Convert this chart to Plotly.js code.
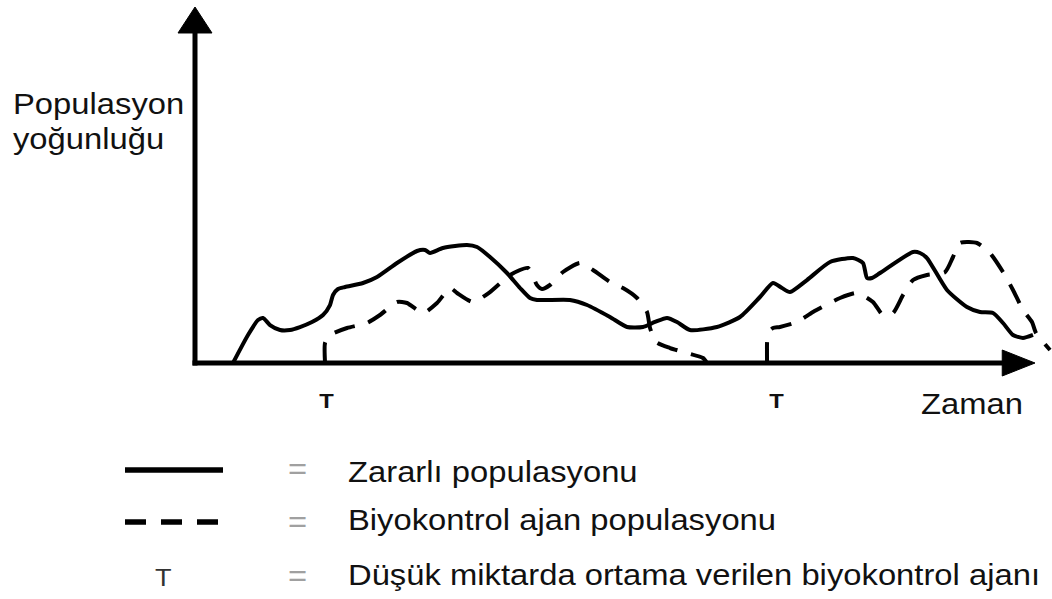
<!DOCTYPE html>
<html><head><meta charset="utf-8">
<script src="https://cdn.plot.ly/plotly-3.0.1.min.js"></script>
<style>html,body{margin:0;padding:0;background:#fff;overflow:hidden}#chart{width:1052px;height:599px}</style>
</head><body><div id="chart"></div>
<script>
// ---- data (time 0..100, density 0..100) ----
const zararliTime = [4.52, 6.31, 7.50, 8.10, 8.93, 10.12, 11.31, 12.50, 13.93, 15.24, 16.07, 16.43, 17.02, 17.86, 20.00, 21.67, 24.05, 26.43, 27.38, 27.98, 29.52, 32.38, 33.57, 35.12, 37.14, 38.69, 39.88, 40.71, 44.64, 46.67, 49.40, 51.43, 53.33, 54.76, 56.19, 57.38, 58.93, 62.14, 64.88, 67.26, 68.81, 69.88, 70.83, 72.86, 75.60, 78.33, 79.52, 80.00, 80.60, 81.55, 85.48, 86.31, 87.14, 89.52, 91.90, 93.45, 95.00, 96.19, 97.38, 98.57, 99.76];
const zararliDensity = [0, 7.87, 12.08, 12.64, 10.67, 9.27, 9.27, 10.11, 11.52, 13.48, 16.29, 19.10, 20.79, 21.35, 22.47, 24.16, 28.09, 31.46, 31.74, 30.90, 32.30, 33.15, 32.58, 29.78, 25.28, 21.07, 18.26, 17.70, 17.70, 16.29, 12.92, 10.11, 10.11, 11.52, 12.64, 11.52, 9.27, 10.11, 12.92, 18.54, 22.47, 21.07, 19.94, 23.31, 28.37, 29.49, 28.09, 23.88, 23.88, 25.28, 31.18, 30.90, 29.49, 20.51, 15.73, 14.33, 14.04, 11.24, 7.87, 7.02, 7.87];

const biyoTime = [15.48, 15.48, 16.07, 18.10, 20.48, 22.02, 24.05, 25.24, 27.14, 28.81, 30.36, 31.19, 33.10, 35.12, 37.50, 39.64, 40.71, 41.31, 42.26, 43.81, 45.83, 47.38, 49.40, 50.95, 52.62, 53.81, 54.17, 54.88, 56.55, 58.57, 60.48, 60.95,
  null,
  68.10, 68.10, 68.20, 68.81, 69.64, 71.67, 73.57, 76.79, 78.81, 80.71, 81.90, 83.10, 84.29, 85.48, 87.14, 89.29, 90.24, 91.07, 93.10, 94.64, 96.19, 97.38, 98.57, 99.64, 100.12, 101.79];
const biyoDensity = [0, 5.62, 7.87, 9.83, 11.24, 13.48, 17.13, 16.85, 14.04, 16.85, 21.07, 19.66, 17.13, 19.94, 24.72, 26.69, 21.91, 20.79, 21.91, 25.56, 28.09, 26.12, 22.75, 21.07, 18.26, 14.33, 9.83, 5.90, 4.21, 2.81, 1.40, 0,
  null,
  0, 5.62, 8.43, 9.83, 10.11, 11.52, 14.33, 18.26, 19.66, 17.13, 13.48, 14.04, 19.10, 23.31, 24.72, 25.56, 29.78, 33.71, 33.71, 30.90, 25.56, 20.51, 14.89, 11.52, 8.43, 3.65];

const releaseTimes = [15.6, 69.2];
const releaseLabel = 'T';
const yAxisLabel = ['Populasyon', 'yoğunluğu'];
const xAxisLabel = 'Zaman';
const legendLabels = ['Zararlı populasyonu', 'Biyokontrol ajan populasyonu', 'Düşük miktarda ortama verilen biyokontrol ajanı'];

// ---- layout helpers ----
const W = 1052, H = 599;
const FONT = 'Liberation Sans, Arial, sans-serif';
const px = v => v / W;          // pixel -> paper x
const py = v => 1 - v / H;      // pixel -> paper y
const STRETCH = 1.13;

const traces = [
  {x: zararliTime, y: zararliDensity, mode: 'lines', hoverinfo: 'skip',
   line: {color: '#000', width: 4, shape: 'spline', smoothing: 0.6}},
  {x: biyoTime, y: biyoDensity, mode: 'lines', hoverinfo: 'skip', connectgaps: false,
   line: {color: '#000', width: 4, shape: 'spline', smoothing: 0.6, dash: '21px,14px'}}
];

function txt(text, x, y, size, opts) {
  return Object.assign({
    text: text, xref: 'paper', yref: 'paper', x: px(x), y: py(y),
    xanchor: 'left', yanchor: 'middle', align: 'left', showarrow: false,
    font: {family: FONT, size: size, color: '#111'}
  }, opts || {});
}

const annotations = [
  txt(yAxisLabel[0], 11, 104, 29),
  txt(yAxisLabel[1], 11, 139, 29),
  txt(xAxisLabel, 919, 404, 29),
  txt(legendLabels[0], 346, 472, 29),
  txt(legendLabels[1], 346, 520, 29),
  txt(legendLabels[2], 346, 575, 29),
  txt('=', 297, 469, 29, {xanchor: 'center', align: 'center', font: {family: FONT, size: 29, color: '#a0a0a0'}}),
  txt('=', 297, 522, 29, {xanchor: 'center', align: 'center', font: {family: FONT, size: 29, color: '#a0a0a0'}}),
  txt('=', 297, 576, 29, {xanchor: 'center', align: 'center', font: {family: FONT, size: 29, color: '#a0a0a0'}}),
  txt(releaseLabel, 163, 577, 24, {xanchor: 'center', align: 'center', font: {family: FONT, size: 24, color: '#333'}})
];
releaseTimes.forEach(t => annotations.push({
  text: '<b>' + releaseLabel + '</b>', xref: 'x', yref: 'paper', x: t, y: py(400.5),
  xanchor: 'center', yanchor: 'middle', align: 'center', showarrow: false,
  font: {family: FONT, size: 21, color: '#111'}
}));

const shapes = [
  // y axis with arrow head
  {type: 'line', xref: 'x', yref: 'y', x0: 0, y0: -0.7, x1: 0, y1: 93, line: {color: '#000', width: 5}},
  {type: 'path', xref: 'x', yref: 'y', path: 'M -2.02,92.7 L 2.02,92.7 L 0,100 Z', fillcolor: '#000', line: {color: '#000', width: 1}},
  // x axis with arrow head
  {type: 'line', xref: 'x', yref: 'y', x0: -0.3, y0: 0, x1: 96.3, y1: 0, line: {color: '#000', width: 5}},
  {type: 'path', xref: 'x', yref: 'y', path: 'M 96.1,3.65 L 96.1,-3.65 L 100,0 Z', fillcolor: '#000', line: {color: '#000', width: 1}},
  // legend samples
  {type: 'line', xref: 'paper', yref: 'paper', x0: px(125), x1: px(223), y0: py(470), y1: py(470), line: {color: '#000', width: 5.5}},
  {type: 'line', xref: 'paper', yref: 'paper', x0: px(125), x1: px(218), y0: py(522), y1: py(522), line: {color: '#000', width: 5.5, dash: '21px,15px'}}
];

const layout = {
  width: W, height: H, margin: {l: 0, r: 0, t: 0, b: 0},
  paper_bgcolor: '#fff', plot_bgcolor: '#fff', showlegend: false,
  xaxis: {range: [-195 / 8.4, (W - 195) / 8.4], visible: false, fixedrange: true},
  yaxis: {range: [(363 - H) / 3.56, 363 / 3.56], visible: false, fixedrange: true},
  shapes: shapes, annotations: annotations
};

const gd = document.getElementById('chart');
Plotly.newPlot(gd, traces, layout, {staticPlot: true, displayModeBar: false}).then(() => {
  gd.querySelectorAll('.annotation-text').forEach(t => {
    const b = t.getBBox();
    const a = t.getAttribute('text-anchor');
    const cx = a === 'middle' ? b.x + b.width / 2 : (a === 'end' ? b.x + b.width : b.x);
    t.setAttribute('transform', `translate(${cx} 0) scale(${STRETCH} 1) translate(${-cx} 0)`);
  });
});
</script>
</body></html>
